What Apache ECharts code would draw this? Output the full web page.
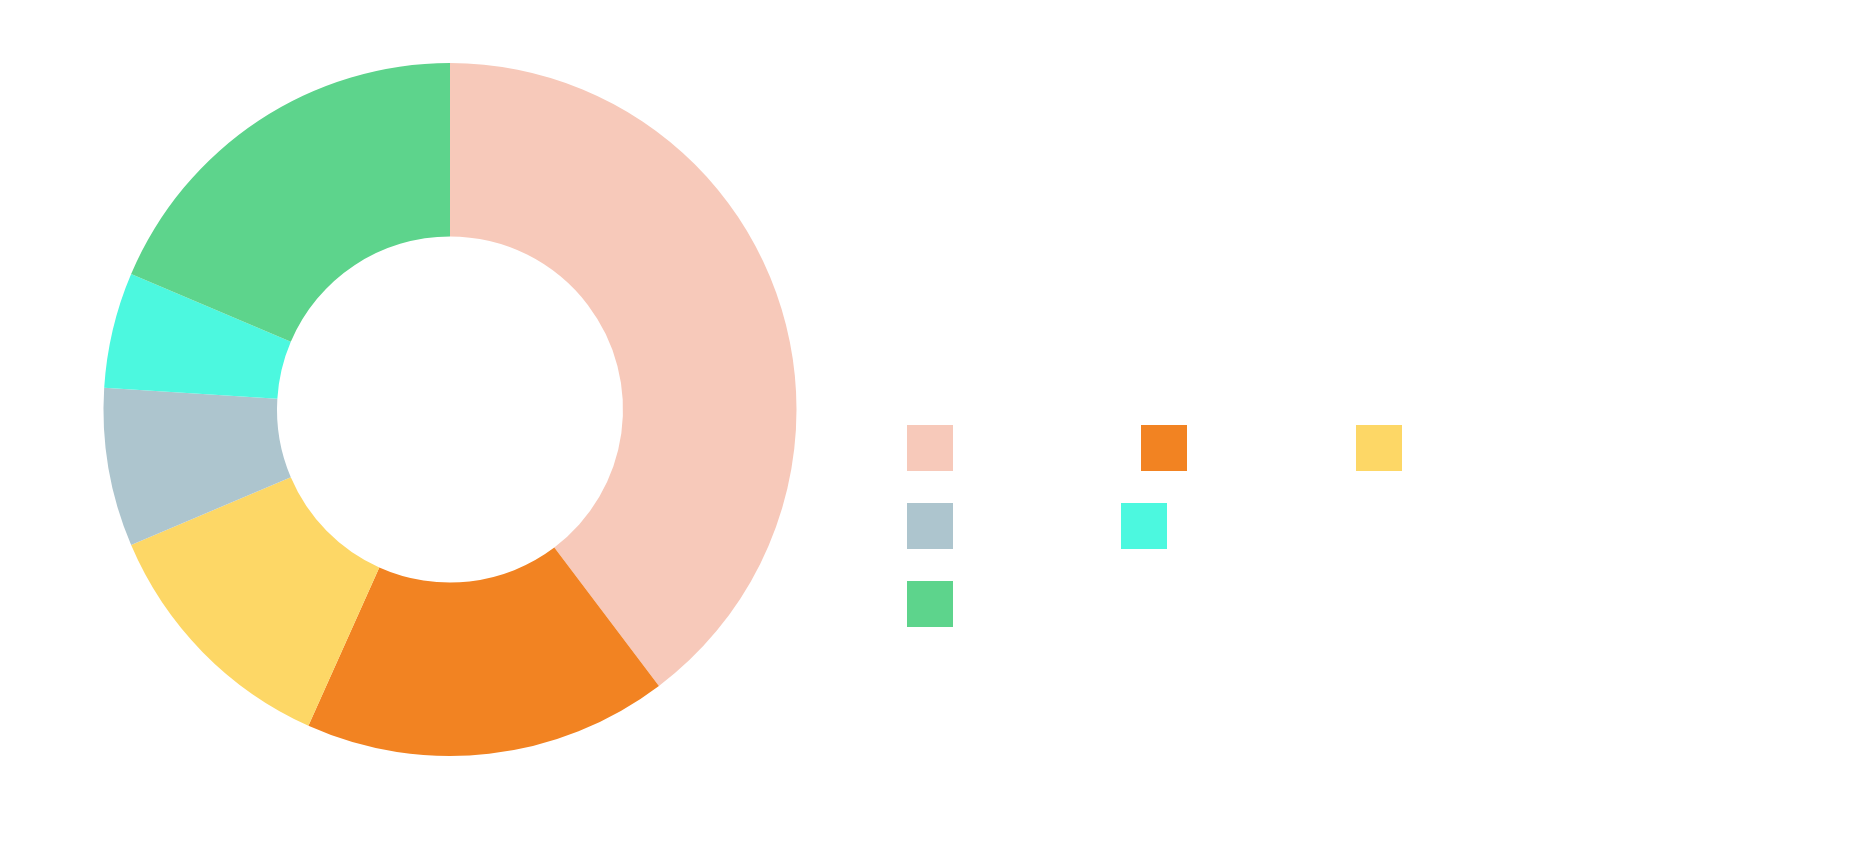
<!DOCTYPE html>
<html>
<head>
<meta charset="utf-8">
<script src="https://cdn.jsdelivr.net/npm/echarts@6/dist/echarts.min.js"></script>
<style>
  html, body { margin: 0; padding: 0; background: #ffffff; }
  #main { width: 1851px; height: 850px; }
</style>
</head>
<body>
<div id="main"></div>
<script>
// data
const categories = ['Trauma', 'Umum', 'Kaki & Pergelangan Kaki', 'Pinggul', 'Perbedaan Panjang Tungkai & Kelainan Bentuk', 'Lainnya'];
const values = [39.7, 17.0, 11.9, 7.4, 5.4, 18.6];
const colors = ['#F7C9BA', '#F28322', '#FDD766', '#ADC5CE', '#4CF8DF', '#5DD48C'];

// legend item positions (box left / top) and label sizes
const legendPos = [[907, 425], [1141, 425], [1356, 425], [907, 503], [1121, 503], [907, 581]];
const legendFont = [35, 35, 35, 35, 30, 35];

const textColor = '#ffffff';

let myChart = echarts.init(document.getElementById('main'));

let option = {
  backgroundColor: '#ffffff',
  color: colors,
  title: {
    text: 'Kondisi yang Ditangani',
    left: 909,
    top: 275,
    padding: 0,
    textStyle: {
      color: textColor,
      fontFamily: 'Liberation Serif',
      fontWeight: 'bold',
      fontSize: 82
    }
  },
  legend: categories.map((c, i) => ({
    data: [c],
    left: legendPos[i][0],
    top: legendPos[i][1],
    padding: 0,
    icon: 'rect',
    itemWidth: 46,
    itemHeight: 46,
    textStyle: {
      color: textColor,
      fontFamily: 'Liberation Sans',
      fontSize: legendFont[i],
      padding: [0, 0, 0, 10]
    }
  })),
  series: [{
    type: 'pie',
    center: [450, 409.5],
    radius: [173, 346.5],
    startAngle: 90,
    clockwise: true,
    label: { show: false },
    labelLine: { show: false },
    itemStyle: { borderWidth: 0 },
    data: categories.map((c, i) => ({ name: c, value: values[i] }))
  }]
};
myChart.setOption(option);
</script>
</body>
</html>
